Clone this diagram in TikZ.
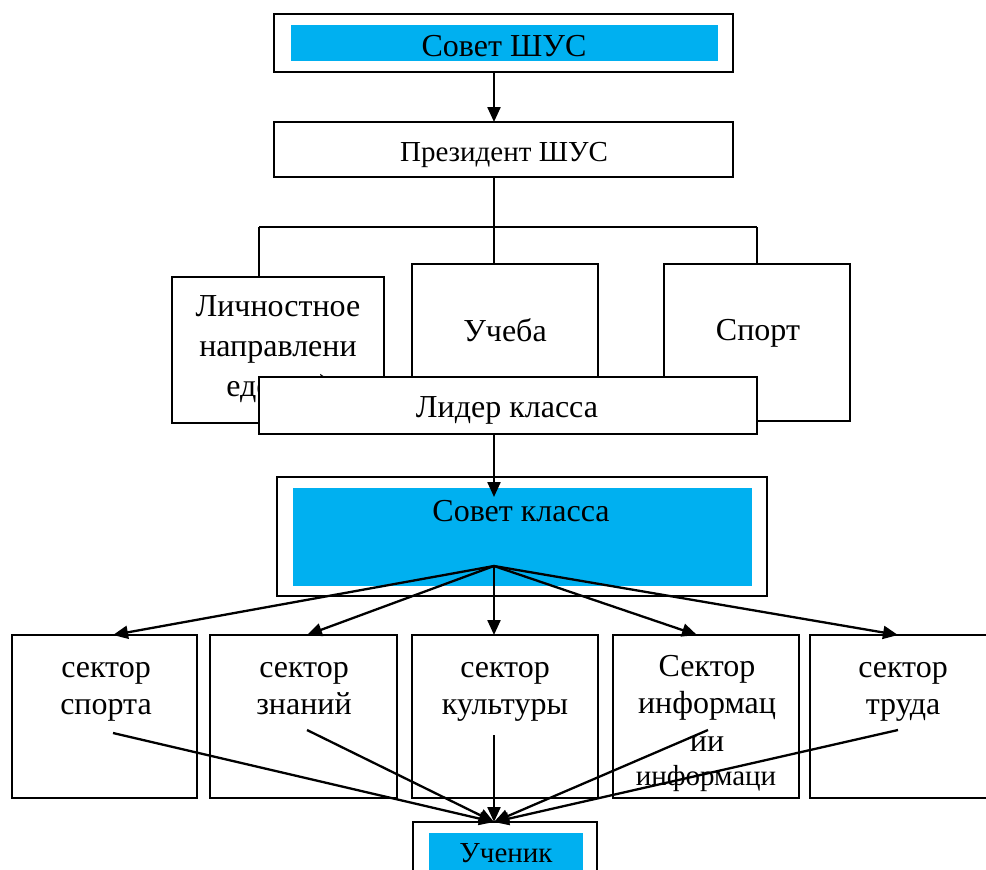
\documentclass[tikz,border=0pt]{standalone}
\usepackage{fontspec}
\setmainfont{Liberation Serif}
\usetikzlibrary{arrows.meta}
\definecolor{wordblue}{HTML}{00B0F0}
\begin{document}
\begin{tikzpicture}[x=1pt,y=-1pt,
  box/.style={draw=black,line width=2.2pt,fill=white,inner sep=0pt},
  bluebox/.style={fill=wordblue,draw=none,inner sep=0pt},
  lbl/.style={font=\fontsize{32}{37.5}\selectfont,align=center,inner sep=0pt},
  lblp/.style={font=\fontsize{32}{40}\selectfont,align=center,inner sep=0pt},
  lblsm/.style={font=\fontsize{29}{38}\selectfont,align=center,inner sep=0pt},
  arr/.style={line width=2.3pt,-{Triangle[length=15pt,width=13pt]}},
  ln/.style={line width=2.3pt}]
\useasboundingbox (0,0) rectangle (986,870);
% top
\node[box,minimum width=459,minimum height=58] (sovet) at (503.5,43) {};
\node[bluebox,minimum width=427,minimum height=36] (sovetin) at (504.5,43) {};
\node[lbl] (sovett) at (504,46) {Совет ШУС};
\node[box,minimum width=459,minimum height=55] (pres) at (503.5,149.5) {};
\node[lblsm] (prest) at (504,155) {Президент ШУС};
% tree
\coordinate (p1) at (494,72);
\coordinate (p2) at (494,122);
\draw[arr] (p1) -- (p2);
\coordinate (t0) at (494,177);
\coordinate (tc) at (494,227);
\coordinate (tl) at (259,227);
\coordinate (tr) at (757,227);
\node[box,minimum width=212,minimum height=146] (lich) at (278,350) {};
\node[box,minimum width=186,minimum height=157] (ucheba) at (505,342.5) {};
\node[box,minimum width=186,minimum height=157] (sport) at (757,342.5) {};
\draw[ln] (t0) -- (tc);
\draw[ln] (tl) -- (tr);
\draw[ln] (tl) -- (tl |- lich.north);
\draw[ln] (tc) -- (tc |- ucheba.north);
\draw[ln] (tr) -- (tr |- sport.north);
\node[lblp] (licht) at (278,349) {Личностное\\направлени\\едение)};
\node[lbl] (uchebat) at (505,330) {Учеба};
\node[lbl] (sportt) at (758,333) {Спорт};
\node[box,minimum width=498,minimum height=57] (lider) at (508,405.5) {};
\node[lbl] (lidert) at (507,410) {Лидер класса};
% class council
\node[box,minimum width=490,minimum height=119] (sk) at (522,536.5) {};
\node[bluebox,minimum width=459,minimum height=98] (skin) at (522.5,537) {};
\node[lbl] (skt) at (521,511) {Совет класса};
\coordinate (l1) at (494,434);
\coordinate (l2) at (494,497);
\draw[arr] (l1) -- (l2);
% sectors
\node[box,minimum width=185,minimum height=163] (s1) at (104.5,716.5) {};
\node[box,minimum width=187,minimum height=163] (s2) at (303.5,716.5) {};
\node[box,minimum width=186,minimum height=163] (s3) at (505,716.5) {};
\node[box,minimum width=186,minimum height=163] (s4) at (706,716.5) {};
\node[box,minimum width=186,minimum height=163] (s5) at (903,716.5) {};
\node[lbl,anchor=base] (s1t) at (106,714.5) {сектор\\спорта};
\node[lbl,anchor=base] (s2t) at (304,714.5) {сектор\\знаний};
\node[lbl,anchor=base] (s3t) at (505,714.5) {сектор\\культуры};
\node[lbl,anchor=base] (s4t) at (707,751) {Сектор\\информац\\ии};
\node[lblsm,anchor=base] (s4t2) at (706,785) {информаци};
\node[lbl,anchor=base] (s5t) at (903,714.5) {сектор\\труда};
\coordinate (fan) at (494,566);
\coordinate (e1) at (113,635);
\coordinate (e2) at (307,635);
\coordinate (e3) at (494,635);
\coordinate (e4) at (697,635);
\coordinate (e5) at (898,635);
\foreach \e in {e1,e2,e3,e4,e5} \draw[arr] (fan) -- (\e);
% pupil
\node[box,minimum width=184,minimum height=58] (uch) at (505,851) {};
\node[bluebox,minimum width=154,minimum height=47] (uchin) at (506,856.5) {};
\node[lblsm] (ucht) at (506,853) {Ученик};
\coordinate (u) at (494,822);
\coordinate (b1) at (113,733);
\coordinate (b2) at (307,730);
\coordinate (b3) at (494,735);
\coordinate (b4) at (708,730);
\coordinate (b5) at (898,730);
\foreach \b in {b1,b2,b3,b4,b5} \draw[arr] (\b) -- (u);
\end{tikzpicture}
\end{document}
